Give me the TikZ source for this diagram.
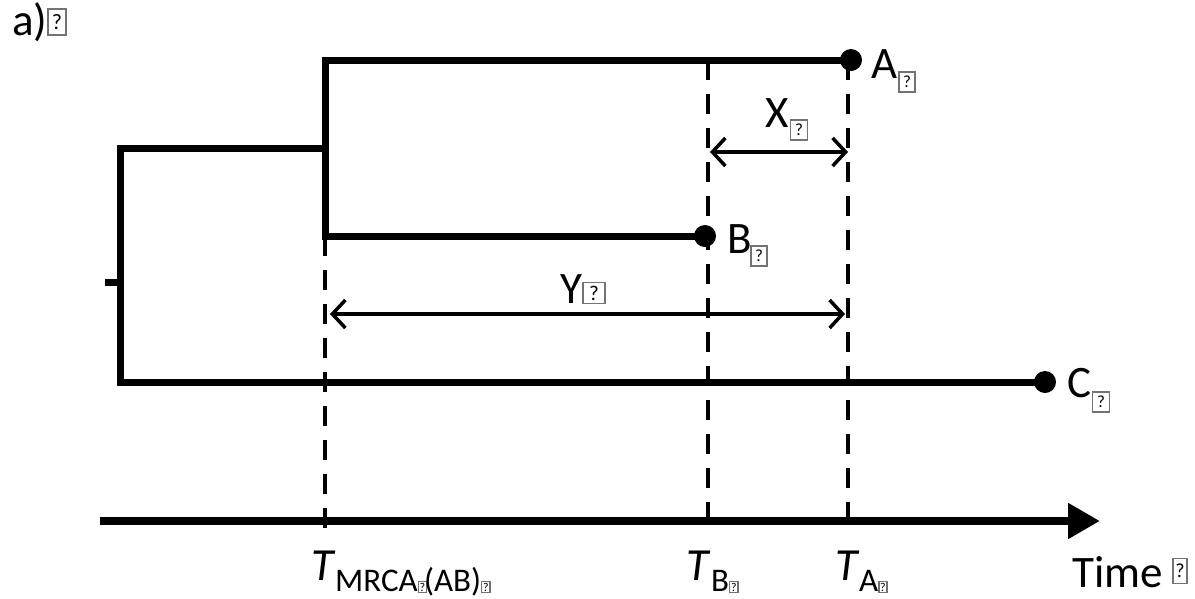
\documentclass[tikz,border=0pt]{standalone}
\usepackage{fontspec}
\setmainfont{Carlito}
\usetikzlibrary{arrows.meta}
\newcommand\qbi[1]{{\fboxsep=0.6pt\fboxrule=1.3pt\color{black!55}\fbox{\color{black}\fontsize{#1}{#1}\selectfont ?}}}
\begin{document}
\begin{tikzpicture}[x=1pt,y=-1pt,
  branch/.style={line width=7pt,line join=miter},
  guide/.style={line width=4pt,dash pattern=on 20pt off 14pt},
  dotnode/.style={circle,fill=black,inner sep=0pt,minimum size=22pt},
  lbl/.style={anchor=base west,inner sep=0pt,font=\fontsize{45}{45}\selectfont},
  tlbl/.style={anchor=base west,inner sep=0pt,font=\fontsize{46}{46}\selectfont\itshape},
  sublbl/.style={anchor=base west,inner sep=0pt,font=\fontsize{33}{33}\selectfont},
  qb/.style={draw=black!55,line width=1.3pt,inner sep=0pt,font=\fontsize{17}{17}\selectfont},
  meas/.style={line width=3.5pt,{Straight Barb[length=13pt,width=28pt]}-{Straight Barb[length=13pt,width=28pt]}},
  axis/.style={line width=8pt,-{Triangle[length=32pt,width=34pt]}}]
\useasboundingbox (0,0) rectangle (1195,598);
% coordinates
\coordinate (abtop) at (325,60);
\coordinate (abbot) at (325,236);
\coordinate (abmid) at (325,148);
\coordinate (rtop) at (120,148);
\coordinate (rbot) at (120,382);
\coordinate (rmid) at (120,282);
\coordinate (stub) at (105,282);
\coordinate (gbtop) at (708,60);
\coordinate (gm) at (325,535);
\coordinate (gb) at (708,535);
\coordinate (ga) at (848,535);
\coordinate (gatop) at (848,60);
\coordinate (ax0) at (100,521);
\coordinate (ax1) at (1100,521);
\coordinate (x0) at (710,152);
\coordinate (x1) at (848,152);
\coordinate (y0) at (330,314);
\coordinate (y1) at (845,314);
% tips
\node[dotnode] (A) at (851,60) {};
\node[dotnode] (B) at (705,236) {};
\node[dotnode] (C) at (1045,382) {};
% guides
\draw[guide] (abbot) -- (gm);
\draw[guide] (gbtop) -- (gb);
\draw[guide] (gatop) -- (ga);
% tree
\draw[branch] (A.center) -- (abtop) -- (abbot) -- (B.center);
\draw[branch] (abmid) -- (rtop) -- (rbot) -- (C.center);
\draw[branch] (stub) -- (rmid);
% axis
\draw[axis] (ax0) -- (ax1);
% measures
\draw[meas] (x0) -- (x1);
\draw[meas] (y0) -- (y1);
% labels
\node[lbl] (la) at (12,35) {a)};
\node[qb,minimum width=18pt,minimum height=26pt,font=\fontsize{22}{22}\selectfont] (qa) at (57,22) {?};
\node[lbl] (lA) at (871,78) {A};
\node[qb,minimum width=16pt,minimum height=20pt] (qA) at (907,82) {?};
\node[lbl] (lB) at (727,253) {B};
\node[qb,minimum width=16pt,minimum height=20pt] (qB) at (759,256) {?};
\node[lbl] (lC) at (1067,397) {C};
\node[qb,minimum width=17pt,minimum height=20pt] (qC) at (1101,402) {?};
\node[lbl] (lX) at (765,127) {X};
\node[qb,minimum width=17pt,minimum height=20pt] (qX) at (799,130) {?};
\node[lbl] (lY) at (560,303) {Y};
\node[qb,minimum width=22pt,minimum height=21pt,font=\fontsize{21}{21}\selectfont] (qY) at (594,293) {?};
\node[tlbl] (tm) at (311,580) {T};
\node[sublbl] (tms) at (335,591) {MRCA\qbi{12}\kern-3pt(AB)\qbi{12}};
\node[tlbl] (tb) at (686,580) {T};
\node[sublbl] (tbs) at (711,591) {B\qbi{12}};
\node[tlbl] (ta) at (835,580) {T};
\node[sublbl] (tas) at (859,591) {A\qbi{12}};
\node[lbl] (time) at (1072,587) {Time};
\node[qb,minimum width=14pt,minimum height=25pt,font=\fontsize{20}{20}\selectfont] (qt) at (1180,571) {?};
\end{tikzpicture}
\end{document}
